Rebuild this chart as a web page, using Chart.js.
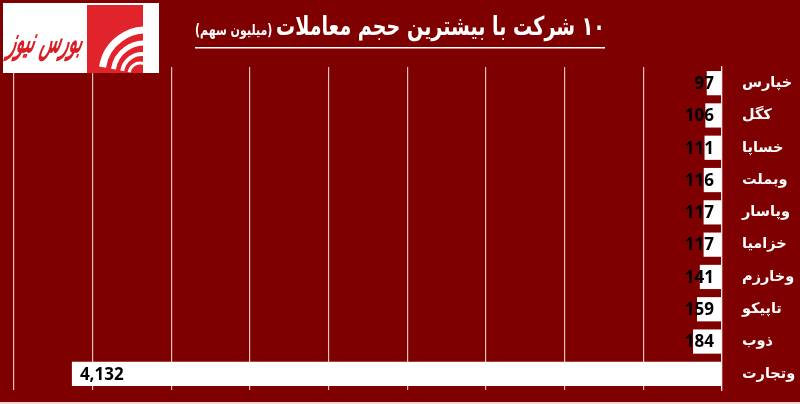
<!DOCTYPE html>
<html>
<head>
<meta charset="utf-8">
<script src="https://cdn.jsdelivr.net/npm/chart.js@4.4.1/dist/chart.umd.min.js"></script>
<style>
  html, body { margin: 0; padding: 0; background: #7f0000; }
  #wrap { width: 800px; height: 404px; position: relative; }
</style>
</head>
<body>
<div id="wrap"><canvas id="chart" width="800" height="404"></canvas></div>
<script>
  const symbols = ['خپارس', 'کگل', 'خساپا', 'وبملت', 'وپاسار', 'خزامیا', 'وخارزم', 'تاپیکو', 'ذوب', 'وتجارت'];
  const volumes = [97, 106, 111, 116, 117, 117, 141, 159, 184, 4132];
  const axisMax = 4500;
  const axisStep = 500;
  const titleMain = '۱۰ شرکت با بیشترین حجم معاملات';
  const titleUnit = '(میلیون سهم)';

  const bg = '#7f0000';

  // title, underline and logo box
  const decor = {
    id: 'decor',
    beforeDraw(chart) {
      const ctx = chart.ctx;
      ctx.save();
      ctx.fillStyle = bg;
      ctx.fillRect(0, 0, chart.width, chart.height);
      ctx.fillStyle = 'rgba(255,235,235,0.9)';
      ctx.fillRect(0, 402, chart.width, 2);
      ctx.restore();
    },
    afterDraw(chart) {
      const ctx = chart.ctx;
      ctx.save();
      // title
      const right = 605, left = 195;
      ctx.direction = 'rtl';
      ctx.textBaseline = 'alphabetic';
      ctx.fillStyle = '#fff';
      ctx.font = 'bold 26px "DejaVu Sans"';
      const wMain = ctx.measureText(titleMain).width;
      ctx.font = 'bold 15px "DejaVu Sans"';
      const wUnit = ctx.measureText(titleUnit).width;
      const gap = 5;
      const k = Math.min(1, (right - left) / (wMain + wUnit + gap));
      ctx.translate(right, 0);
      ctx.scale(k, 1);
      ctx.textAlign = 'right';
      ctx.font = 'bold 26px "DejaVu Sans"';
      ctx.fillText(titleMain, 0, 35);
      ctx.font = 'bold 15px "DejaVu Sans"';
      ctx.fillText(titleUnit, -(wMain + gap), 35);
      ctx.setTransform(1, 0, 0, 1, 0, 0);
      ctx.fillRect(left, 47, right - left, 1.5);

      // logo
      ctx.direction = 'ltr';
      ctx.fillStyle = '#fff';
      ctx.fillRect(3, 3, 156, 70);
      ctx.fillStyle = '#e1232b';
      ctx.fillRect(87, 5, 56, 68);
      ctx.save();
      ctx.beginPath();
      ctx.rect(87, 5, 56, 68);
      ctx.clip();
      ctx.strokeStyle = '#fff';
      [[44, 7], [31, 5], [20, 4], [11, 3]].forEach(([r, lw], i) => {
        ctx.lineWidth = lw;
        ctx.beginPath();
        ctx.arc(146 - i * 2, 74, r, Math.PI * 1.05, Math.PI * 1.62);
        ctx.stroke();
      });
      ctx.restore();
      ctx.fillStyle = '#d81f26';
      ctx.direction = 'rtl';
      ctx.textAlign = 'center';
      ctx.font = 'italic bold 22px "DejaVu Sans"';
      ctx.save();
      ctx.translate(44, 52);
      ctx.transform(1, 0, -0.2, 1, 0, 0);
      const wl = ctx.measureText('بورس نیوز').width;
      ctx.scale(Math.min(1, 74 / wl), 1.6);
      ctx.fillText('بورس نیوز', 0, 0);
      ctx.restore();
      ctx.restore();
    }
  };

  // value labels at the outer end of each bar
  const valueLabels = {
    id: 'valueLabels',
    afterDatasetsDraw(chart) {
      const ctx = chart.ctx;
      const meta = chart.getDatasetMeta(0);
      const axisX = chart.chartArea.right;
      ctx.save();
      ctx.font = 'bold 17px "Open Sans"';
      ctx.fillStyle = '#000';
      ctx.textAlign = 'left';
      ctx.textBaseline = 'middle';
      meta.data.forEach((bar, i) => {
        const txt = volumes[i].toLocaleString('en-US');
        const w = ctx.measureText(txt).width;
        const x = Math.min(bar.x + 8, axisX - 8 - w);
        ctx.fillText(txt, x, bar.y + 1);
      });
      ctx.restore();
    }
  };

  new Chart(document.getElementById('chart'), {
    type: 'bar',
    data: {
      labels: symbols,
      datasets: [{
        data: volumes,
        backgroundColor: '#ffffff',
        borderWidth: 0,
        categoryPercentage: 1,
        barPercentage: 0.75
      }]
    },
    options: {
      indexAxis: 'y',
      responsive: false,
      animation: false,
      layout: { padding: { left: 14, top: 67, bottom: 14, right: 0 } },
      plugins: { legend: { display: false }, tooltip: { enabled: false } },
      scales: {
        x: {
          reverse: true,
          min: 0,
          max: axisMax,
          ticks: { display: false, stepSize: axisStep },
          grid: { color: 'rgba(255,225,225,0.85)', lineWidth: 1.2, drawTicks: false },
          border: { display: false },
          afterFit(scale) { scale.height = 0; scale.paddingLeft = 0; scale.paddingRight = 0; }
        },
        y: {
          position: 'right',
          grid: { display: false },
          border: { color: 'rgba(255,225,225,0.9)', width: 1.2 },
          ticks: {
            color: '#fff',
            padding: 12,
            font: { family: '"DejaVu Sans"', weight: 'bold', size: 14.5 }
          },
          afterFit(scale) { scale.width = 78; scale.paddingTop = 0; scale.paddingBottom = 0; }
        }
      }
    },
    plugins: [decor, valueLabels]
  });
</script>
</body>
</html>
